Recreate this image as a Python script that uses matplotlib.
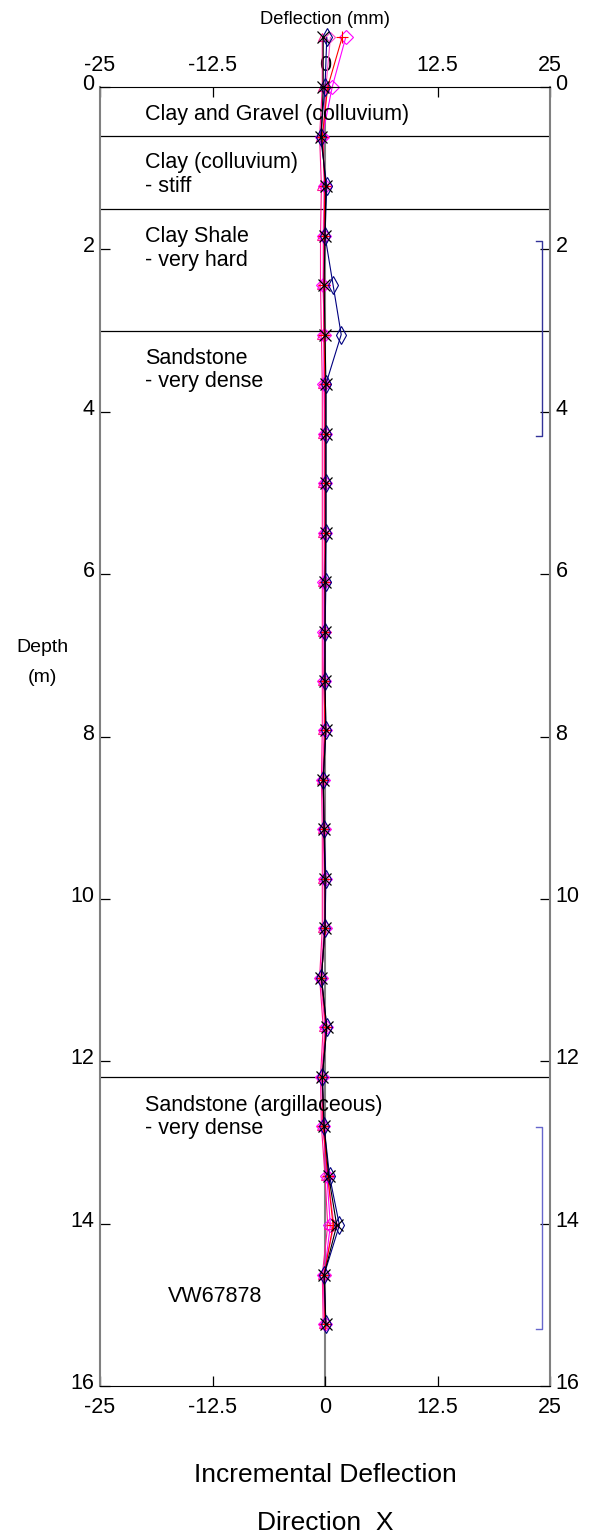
import matplotlib
matplotlib.use("Agg")
import matplotlib.pyplot as plt
import matplotlib.transforms as mtransforms

plt.rcParams['font.family'] = ['Liberation Sans', 'DejaVu Sans']

# depths of the readings (m)
depths = [-0.61, 0.0, 0.61, 1.22, 1.83, 2.44, 3.05, 3.66, 4.27, 4.88, 5.49, 6.10, 6.71,
          7.32, 7.92, 8.53, 9.14, 9.75, 10.36, 10.97, 11.58, 12.19, 12.80, 13.41,
          14.02, 14.63, 15.24]

# incremental deflection readings (mm)
reading_black = [-0.2, -0.2, -0.4, 0.1, 0.0, -0.1, 0.0, 0.1, 0.1, 0.1, 0.1, 0.0, 0.0,
                 0.0, 0.1, -0.2, -0.1, 0.0, 0.0, -0.4, 0.2, -0.3, -0.1, 0.4, 1.3, -0.1, 0.1]
reading_navy = [0.2, 0.0, -0.5, 0.2, 0.0, 0.9, 1.8, 0.1, 0.1, 0.1, 0.1, 0.1, 0.0,
                0.0, 0.1, -0.2, -0.1, 0.1, 0.0, -0.4, 0.2, -0.3, -0.1, 0.5, 1.6, -0.1, 0.1]
reading_magenta = [2.3, 0.8, -0.3, 0.0, -0.1, -0.2, -0.1, -0.1, 0.0, 0.0, 0.0, -0.1, -0.1,
                   -0.1, 0.0, -0.2, -0.1, 0.0, 0.0, -0.4, 0.1, -0.3, -0.2, 0.2, 0.6, -0.1, 0.0]
reading_pink = [0.6, 0.1, -0.2, -0.1, -0.2, -0.2, -0.1, -0.1, -0.1, -0.1, -0.1, -0.1, -0.1,
                -0.1, -0.1, -0.3, -0.2, -0.1, -0.1, -0.5, 0.0, -0.4, -0.2, 0.3, 1.0, -0.2, -0.1]
reading_red = [1.9, 0.3, -0.3, 0.0, -0.1, -0.1, -0.1, 0.0, 0.0, 0.0, 0.0, 0.0, 0.0,
               -0.1, 0.0, -0.2, -0.1, 0.0, 0.0, -0.4, 0.1, -0.3, -0.2, 0.3, 0.9, -0.1, 0.0]
reading_tri = [-0.3, -0.3, -0.6, -0.4, -0.5, -0.5, -0.4, -0.3, -0.3, -0.3, -0.3, -0.3, -0.3,
               -0.3, -0.3, -0.4, -0.3, -0.3, -0.3, -0.6, -0.2, -0.5, -0.4, 0.0, 0.3, -0.3, -0.2]

# soil layers
layer_bounds = [0.6, 1.5, 3.0, 12.2]
layer_names = ["Clay and Gravel (colluvium)", "Clay (colluvium)\n- stiff",
               "Clay Shale\n- very hard", "Sandstone\n- very dense",
               "Sandstone (argillaceous)\n- very dense"]
layer_label_depths = [0.21, 0.80, 1.71, 3.21, 12.41]

# zones marked on the right
zones = [(1.9, 4.3), (12.81, 15.3)]
zone_colors = ["#333399", "#6666cc"]

xticks = [-25, -12.5, 0, 12.5, 25]
xtick_labels = ["-25", "-12.5", "0", "12.5", "25"]
yticks = [0, 2, 4, 6, 8, 10, 12, 14, 16]

fig = plt.figure(figsize=(5.97, 15.39), dpi=100)
ax = fig.add_axes([100/597, 1-1386/1539, 450/597, 1299/1539])

ax.set_xlim(-25, 25)
ax.set_ylim(16, 0)

ax.axvline(0, color="#808080", lw=1.5, zorder=1)
for d in layer_bounds:
    ax.axhline(d, color="black", lw=0.9, zorder=1)

for name, d in zip(layer_names, layer_label_depths):
    ax.text(-20, d, name, fontsize=15.5, va="top", ha="left", linespacing=1.17)
ax.text(-17.4, 14.9, "VW67878", fontsize=15.5, va="center", ha="left")

ax.plot(reading_tri, depths, color="#ff1493", lw=0.8, marker="^", ms=6, mfc="none", mew=0.8, clip_on=False)
ax.plot(reading_pink, depths, color="#ff44cc", lw=0.8, marker="D", ms=5, mfc="none", mew=0.8, clip_on=False)
ax.plot(reading_magenta, depths, color="#ff00ff", lw=0.8, marker="D", ms=7, mfc="none", mew=0.8, clip_on=False)
ax.plot(reading_red, depths, color="red", lw=0.8, marker="+", ms=8, mew=0.8, clip_on=False)
ax.plot(reading_navy, depths, color="#000080", lw=0.8, marker="d", ms=9, mfc="none", mew=0.8, clip_on=False)
ax.plot(reading_black, depths, color="black", lw=0.8, marker="x", ms=8, mew=0.9, clip_on=False)

for (top, bot), c in zip(zones, zone_colors):
    ax.plot([23.4, 24.1, 24.1, 23.4], [top, top, bot, bot], color=c, lw=1.0)

ax.set_xticks(xticks)
ax.set_xticklabels(xtick_labels)
ax.set_yticks(yticks)
ax.tick_params(axis="both", direction="in", length=7, width=0.9, labelsize=15.5,
               top=True, bottom=True, left=True, right=True,
               labeltop=True, labelbottom=True, labelleft=True, labelright=True)
ax.tick_params(axis="x", pad=8)
ax.tick_params(axis="y", pad=4)

# depth labels sit a little above their ticks
shift = mtransforms.ScaledTranslation(0, 5/100, fig.dpi_scale_trans)
for t in ax.yaxis.get_major_ticks():
    t.label1.set_transform(t.label1.get_transform() + shift)
    t.label2.set_transform(t.label2.get_transform() + shift)

ax.spines["left"].set_color("#808080")
ax.spines["right"].set_color("#808080")
ax.spines["left"].set_linewidth(1.5)
ax.spines["right"].set_linewidth(1.5)

fig.text(325/597, 1-20/1539, "Deflection (mm)", fontsize=13.2, ha="center", va="center")
fig.text(42/597, 1-648/1539, "Depth", fontsize=14, ha="center", va="center")
fig.text(42/597, 1-678/1539, "(m)", fontsize=14, ha="center", va="center")
fig.text(325/597, 1-1475/1539, "Incremental Deflection", fontsize=19, ha="center", va="center")
fig.text(325/597, 1-1523/1539, "Direction  X", fontsize=19, ha="center", va="center")

fig.savefig("out.png", dpi=100)
